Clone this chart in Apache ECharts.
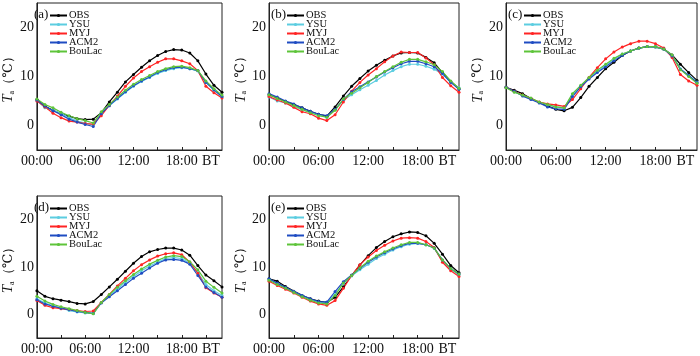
<!DOCTYPE html>
<html>
<head>
<meta charset="utf-8">
<script src="https://cdn.jsdelivr.net/npm/echarts@6/dist/echarts.min.js"></script>
<style>
  html, body { margin: 0; padding: 0; background: #fff; }
  #main { width: 700px; height: 356px; }
</style>
</head>
<body>
<div id="main"></div>
<script>
// hours 00 - 23 (BT)
var hours = ['0','1','2','3','4','5','6','7','8','9','10','11','12','13','14','15','16','17','18','19','20','21','22','23'];
var xTickLabels = {0: '00:00', 6: '06:00', 12: '12:00', 18: '18:00', 21: 'BT'};
var yTickLabels = [0, 10, 20];
var names = ['OBS', 'YSU', 'MYJ', 'ACM2', 'BouLac'];
var panelLabels = ['(a)', '(b)', '(c)', '(d)', '(e)'];

// (a)
var obsA    = [5.3,3.9,3.1,2.4,1.9,1.4,1.2,1.3,2.6,4.8,6.8,8.9,10.4,11.9,13.2,14.3,15.1,15.5,15.4,14.8,13.2,10.5,8.2,6.8];
var ysuA    = [5.1,3.6,3.1,2.5,1.6,0.9,0.5,0.1,2.5,4.0,5.4,6.8,8.0,9.0,9.8,10.6,11.2,11.6,11.8,11.6,11.1,8.8,7.2,5.8];
var myjA    = [5.0,3.8,2.5,1.6,0.9,0.7,0.4,0.3,2.0,4.1,6.0,8.0,9.7,11.0,12.0,12.9,13.6,13.6,13.2,12.6,11.2,8.0,6.7,5.6];
var acm2A   = [5.2,4.0,3.0,2.2,1.3,0.7,0.2,-0.2,2.4,4.1,5.5,6.9,8.1,9.1,9.9,10.8,11.4,11.8,11.9,11.6,11.2,8.8,7.3,5.9];
var boulacA = [5.4,4.3,3.6,2.7,2.0,1.4,1.0,0.5,2.8,4.3,5.8,7.2,8.4,9.4,10.2,11.0,11.6,12.0,12.1,11.8,11.2,9.1,7.5,6.2];

// (b)
var obsB    = [6.3,5.6,4.9,4.3,3.6,2.9,2.3,1.9,3.8,6.0,8.0,9.6,11.1,12.3,13.3,14.2,14.8,14.9,14.8,13.9,12.8,10.8,9.0,7.5];
var ysuB    = [5.8,5.0,4.6,3.9,3.2,2.7,2.1,1.7,3.2,5.2,6.3,7.3,8.2,9.2,10.3,11.2,12.0,12.5,12.5,12.1,11.5,10.5,8.8,7.7];
var myjB    = [5.9,5.2,4.6,3.7,2.8,2.4,1.5,1.0,2.2,4.8,7.0,8.8,10.3,11.6,13.0,14.2,15.0,14.9,14.9,13.8,12.4,9.8,8.1,6.8];
var acm2B   = [6.5,5.8,5.0,4.4,3.6,2.9,2.3,2.0,3.3,5.3,6.9,7.9,8.9,9.9,10.9,11.8,12.6,13.1,13.1,12.6,12.0,10.6,8.8,7.4];
var boulacB = [6.3,5.5,4.8,4.1,3.3,2.6,2.0,1.7,3.1,5.4,6.6,7.7,8.8,10.0,11.0,12.0,12.9,13.5,13.5,13.0,12.4,11.0,9.1,7.6];

// (c)
var obsC    = [7.8,7.2,6.5,5.5,4.7,4.0,3.3,3.0,3.7,5.7,8.0,9.8,11.6,12.9,14.3,15.2,15.8,16.1,16.0,15.6,14.4,12.5,10.8,9.2];
var ysuC    = [7.8,6.9,6.1,5.4,4.7,4.2,3.8,3.6,6.2,8.1,9.7,11.0,12.3,13.5,14.6,15.2,15.8,16.1,16.0,15.6,14.3,11.6,10.2,8.9];
var myjC    = [7.8,7.0,6.2,5.5,4.8,4.4,4.2,3.9,5.3,7.5,9.8,11.8,13.6,15.0,16.0,16.7,17.2,17.2,16.7,15.8,13.9,10.4,9.1,8.2];
var acm2C   = [7.8,7.0,6.0,5.3,4.6,3.8,3.4,3.3,5.9,7.9,9.5,10.8,12.0,13.2,14.3,15.2,15.8,16.1,16.1,15.6,14.2,11.5,10.2,8.8];
var boulacC = [7.7,6.8,6.2,5.6,4.8,4.3,3.8,3.6,6.5,8.2,9.8,11.3,12.5,13.7,14.6,15.2,15.8,16.1,16.1,15.6,14.4,11.4,10.0,8.6];

// (d)
var obsD    = [5.0,3.8,3.3,3.0,2.7,2.3,2.2,2.7,4.2,5.8,7.4,9.1,10.8,12.2,13.2,13.7,14.0,14.0,13.6,12.5,10.3,8.3,7.1,5.8];
var ysuD    = [3.3,2.4,1.8,1.3,0.8,0.5,0.3,0.2,2.5,4.0,5.3,6.8,8.0,9.2,10.2,11.0,11.8,12.0,11.8,10.8,8.8,6.3,5.0,4.0];
var myjD    = [2.9,1.9,1.4,1.2,1.0,0.8,0.6,0.7,2.5,4.2,6.0,7.6,9.2,10.5,11.5,12.3,12.8,13.0,12.6,11.0,8.7,5.6,4.5,3.6];
var acm2D   = [3.1,2.2,1.7,1.3,1.0,0.6,0.4,0.2,2.4,3.7,5.0,6.3,7.6,8.7,9.8,10.8,11.5,11.6,11.4,10.6,8.2,5.8,4.6,3.6];
var boulacD = [3.8,2.8,2.1,1.6,1.2,0.8,0.4,0.1,2.5,4.2,5.7,7.1,8.4,9.6,10.6,11.4,12.1,12.4,12.2,11.1,9.4,7.0,5.7,4.5];

// (e)
var obsE    = [7.5,7.0,5.9,4.9,4.0,3.3,2.8,2.5,3.6,5.8,8.2,10.4,12.4,14.1,15.4,16.4,17.0,17.4,17.3,16.6,15.0,12.7,10.3,8.8];
var ysuE    = [7.4,6.5,5.6,4.8,3.9,3.1,2.6,2.4,4.2,6.5,8.1,9.4,10.6,11.8,12.7,13.6,14.3,14.8,15.0,14.7,14.0,11.3,9.5,8.3];
var myjE    = [7.0,6.1,5.3,4.5,3.6,2.8,2.2,1.9,2.9,5.5,8.2,10.5,12.1,13.5,14.6,15.5,16.1,16.2,16.1,15.4,14.1,11.0,9.2,8.0];
var acm2E   = [7.5,6.6,5.7,4.8,4.0,3.3,2.7,2.6,4.8,6.9,8.3,9.7,11.0,12.1,13.0,13.8,14.5,15.0,15.0,14.7,14.0,11.5,9.7,8.5];
var boulacE = [7.2,6.3,5.5,4.6,3.7,3.0,2.4,2.2,4.0,6.6,8.2,9.8,11.2,12.3,13.2,14.0,14.7,15.2,15.2,14.7,14.0,11.5,9.7,8.5];

var panels = [
  [obsA, ysuA, myjA, acm2A, boulacA],
  [obsB, ysuB, myjB, acm2B, boulacB],
  [obsC, ysuC, myjC, acm2C, boulacC],
  [obsD, ysuD, myjD, acm2D, boulacD],
  [obsE, ysuE, myjE, acm2E, boulacE]
];

var colors = ['#000000', '#5ccde0', '#ff2424', '#1f4cc2', '#5ec43a'];
var font = "'Liberation Serif', 'DejaVu Serif', serif";

var grids = [
  {left: 32,  top: 3,   width: 190, height: 147},
  {left: 269, top: 3,   width: 190, height: 147},
  {left: 506, top: 3,   width: 191, height: 147},
  {left: 32,  top: 196, width: 190, height: 146},
  {left: 269, top: 196, width: 190, height: 146}
];

var chart = echarts.init(document.getElementById('main'), null, {renderer: 'canvas'});

var option = {
  animation: false,
  backgroundColor: '#fff',
  color: colors,
  grid: [], xAxis: [], yAxis: [], series: [], legend: [], title: []
};

grids.forEach(function (g, i) {
  option.grid.push({
    left: g.left, top: g.top, width: g.width, height: g.height,
    show: true, borderColor: '#222', borderWidth: 1
  });

  option.xAxis.push({
    gridIndex: i,
    type: 'category',
    data: hours,
    boundaryGap: false,
    axisLine: {onZero: false, lineStyle: {color: '#222'}},
    axisTick: {inside: true, length: 3, interval: function (idx) { return idx % 3 === 0; }, lineStyle: {color: '#222'}},
    axisLabel: {
      interval: function (idx) { return xTickLabels[idx] !== undefined; },
      formatter: function (v, idx) {
        if (idx === 21) return '{bt|BT}';
        return xTickLabels[idx] || '';
      },
      hideOverlap: false,
      color: '#111', fontFamily: font, fontSize: 14, margin: 4,
      rich: {
        bt: {fontFamily: font, fontSize: 14, color: '#111', padding: [0, 0, 0, 10]}
      }
    },
    splitLine: {show: false}
  });

  option.yAxis.push({
    gridIndex: i,
    type: 'value',
    min: -5, max: 25, interval: 5,
    name: '{i|T}{s|a}{n|（℃）}',
    nameLocation: 'middle',
    nameGap: 15,
    nameRotate: 90,
    nameTextStyle: {
      color: '#111',
      rich: {
        i: {fontFamily: font, fontStyle: 'italic', fontSize: 15, color: '#111'},
        s: {fontFamily: font, fontSize: 8, color: '#111', verticalAlign: 'bottom', padding: [6, 0, 0, 0]},
        n: {fontFamily: font, fontSize: 13, color: '#111'}
      }
    },
    axisLine: {show: true, lineStyle: {color: '#222'}},
    axisTick: {inside: true, length: 3, lineStyle: {color: '#222'}},
    axisLabel: {
      formatter: function (v) { return yTickLabels.indexOf(v) >= 0 ? String(v) : ''; },
      color: '#111', fontFamily: font, fontSize: 14, margin: 3
    },
    splitLine: {show: false}
  });

  option.title.push({
    text: panelLabels[i],
    left: g.left + 2, top: g.top + 5,
    padding: 0,
    textStyle: {fontFamily: font, fontSize: 13, fontWeight: 'normal', color: '#111'}
  });

  option.legend.push({
    orient: 'vertical',
    left: g.left + 17, top: g.top + 7,
    padding: 0,
    itemWidth: 17, itemHeight: 4, itemGap: -2,
    data: names,
    textStyle: {fontFamily: font, fontSize: 10.5, lineHeight: 9.8, color: '#111', padding: [0, 0, 0, -3]}
  });

  panels[i].forEach(function (vals, k) {
    option.series.push({
      name: names[k],
      type: 'line',
      xAxisIndex: i, yAxisIndex: i,
      data: vals,
      symbol: 'circle', symbolSize: 3,
      lineStyle: {width: 1.2, color: colors[k]},
      itemStyle: {color: colors[k]}
    });
  });
});

chart.setOption(option);
</script>
</body>
</html>
